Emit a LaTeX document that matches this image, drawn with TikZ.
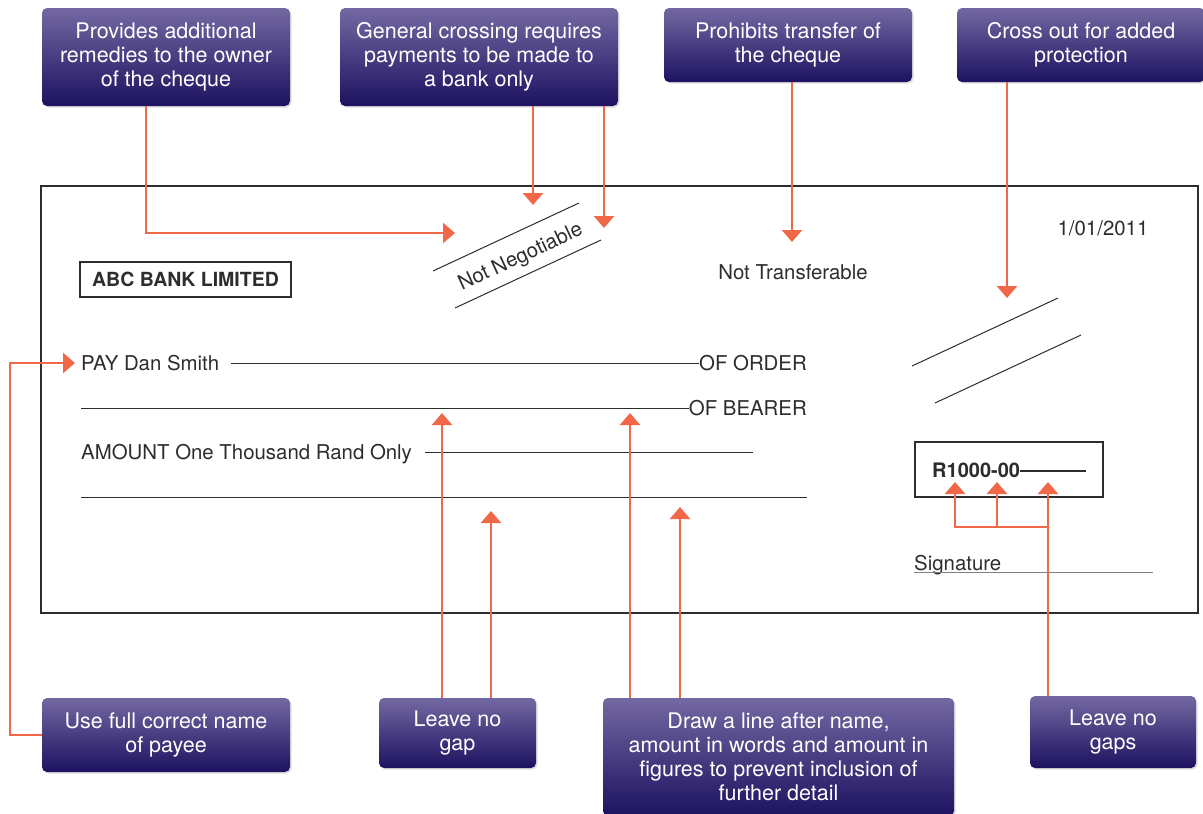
\documentclass[tikz,border=0pt]{standalone}
\usepackage{fontspec}
\setmainfont{TeX Gyre Heros}
\usetikzlibrary{arrows.meta,shadows}

\definecolor{boxtop}{RGB}{116,104,162}
\definecolor{boxbottom}{RGB}{28,18,96}
\definecolor{pointer}{RGB}{240,104,72}
\definecolor{ink}{RGB}{45,45,45}

\tikzset{
    note/.style={rounded corners=5pt, top color=boxtop, bottom color=boxbottom, text=white, align=center, inner sep=0pt,
        font=\fontsize{21.5}{24}\selectfont, drop shadow={opacity=0.25, shadow xshift=1.5pt, shadow yshift=-1.5pt}},
    callout/.style={draw=pointer, line width=2.6pt, -{Triangle[width=20pt,length=12pt]}},
    chq/.style={text=ink, inner sep=0pt, text height=14pt, text depth=0pt, font=\fontsize{20.4}{24}\selectfont},
    rule/.style={draw=ink, line width=1pt}
}

\begin{document}
\begin{tikzpicture}[x=1pt,y=-1pt]
        \useasboundingbox (0,0) rectangle (1203,814);

        \draw[ink, line width=1.2pt] (41,186) rectangle (1198,613);

        \node[chq, draw=ink, line width=1.2pt, minimum width=211, minimum height=35, font=\fontsize{19.5}{24}\selectfont\bfseries] (bank) at (185.5,279.5) {ABC BANK LIMITED};

        \node[chq, rotate=25] (negot) at (520,256) {Not Negotiable};
        \draw[rule] (433,271) -- (579,203);
        \draw[rule] (455,308) -- (601,240);

        \node[chq] (transfer) at (793,272) {Not Transferable};
        \node[chq] (date) at (1103,228) {1/01/2011};
        \draw[rule] (912,366) -- (1058,298);
        \draw[rule] (935,403) -- (1081,335);

        \node[chq, anchor=west] (pay) at (81,363) {PAY Dan Smith};
        \node[chq, anchor=east] (order) at (807,363) {OF ORDER};
        \draw[rule] ([xshift=12pt]pay.east) -- (order.west);

        \coordinate (bearerStart) at (81,408);
        \node[chq, anchor=east] (bearer) at (807,408) {OF BEARER};
        \draw[rule] (bearerStart) -- (bearer.west);

        \node[chq, anchor=west] (amount) at (81,452) {AMOUNT One Thousand Rand Only};
        \coordinate (amountEnd) at (753,452);
        \draw[rule] ([xshift=13pt]amount.east) -- (amountEnd);

        \coordinate (wordsStart) at (81,497);
        \coordinate (wordsEnd) at (807,497);
        \draw[rule] (wordsStart) -- (wordsEnd);

        \node[chq, draw=ink, line width=1.2pt, minimum width=188, minimum height=55] (figbox) at (1009,469.5) {};
        \node[chq, anchor=west, font=\fontsize{20}{24}\selectfont\bfseries] (figures) at (932,470) {R1000-00};
        \coordinate (figuresEnd) at (1086,471);
        \draw[ink, line width=2pt] (figures.east |- figuresEnd) -- (figuresEnd);

        \node[chq, anchor=west] (sign) at (914,563) {Signature};
        \coordinate (signEnd) at (1153,572);
        \draw[gray, line width=1pt] (sign.west |- signEnd) -- (signEnd);

        \node[note, minimum width=248, minimum height=98] (remedies) at (166,57) {Provides additional\\remedies to the owner\\of the cheque};
        \node[note, minimum width=278, minimum height=98] (crossing) at (479,57) {General crossing requires\\payments to be made to\\a bank only};
        \node[note, minimum width=248, minimum height=74] (prohibit) at (788,45) {Prohibits transfer of\\the cheque};
        \node[note, minimum width=248, minimum height=74] (protect) at (1081,45) {Cross out for added\\protection};
        \node[note, minimum width=248, minimum height=74] (payee) at (166,735) {Use full correct name\\of payee};
        \node[note, minimum width=157, minimum height=70] (gap) at (457.5,733) {Leave no\\gap};
        \node[note, minimum width=351, minimum height=118] (afterline) at (778.5,757) {Draw a line after name,\\amount in words and amount in\\figures to prevent inclusion of\\further detail};
        \node[note, minimum width=166, minimum height=72] (gaps) at (1113,732) {Leave no\\gaps};

        \coordinate (remediesTip) at (455,233);
        \coordinate (crossTipA) at (533,205);
        \coordinate (crossTipB) at (604,228);
        \coordinate (prohibitTip) at (792,242);
        \coordinate (protectTip) at (1007,298);
        \coordinate (payTip) at (75,363);
        \coordinate (gapTipA) at (442,413);
        \coordinate (gapTipB) at (491,511);
        \coordinate (lineTipA) at (630,413);
        \coordinate (lineTipB) at (680,507);
        \coordinate (gapsTipA) at (955,482);
        \coordinate (gapsTipB) at (997,482);
        \coordinate (gapsTipC) at (1048,482);
        \coordinate (gapsJoin) at (1048,527);

        \draw[callout] ([xshift=-20pt]remedies.south) |- (remediesTip);
        \draw[callout] (crossing.south -| crossTipA) -- (crossTipA);
        \draw[callout] (crossing.south -| crossTipB) -- (crossTipB);
        \draw[callout] (prohibit.south -| prohibitTip) -- (prohibitTip);
        \draw[callout] (protect.south -| protectTip) -- (protectTip);
        \draw[callout] (payee.west) -- ++(-32,0) |- (payTip);
        \draw[callout] (gap.north -| gapTipA) -- (gapTipA);
        \draw[callout] (gap.north -| gapTipB) -- (gapTipB);
        \draw[callout] (afterline.north -| lineTipA) -- (lineTipA);
        \draw[callout] (afterline.north -| lineTipB) -- (lineTipB);
        \draw[callout] (gaps.north -| gapsTipC) -- (gapsTipC);
        \draw[callout] (gapsJoin) -| (gapsTipA);
        \draw[callout] (gapsJoin -| gapsTipB) -- (gapsTipB);
    \end{tikzpicture}
\end{document}
